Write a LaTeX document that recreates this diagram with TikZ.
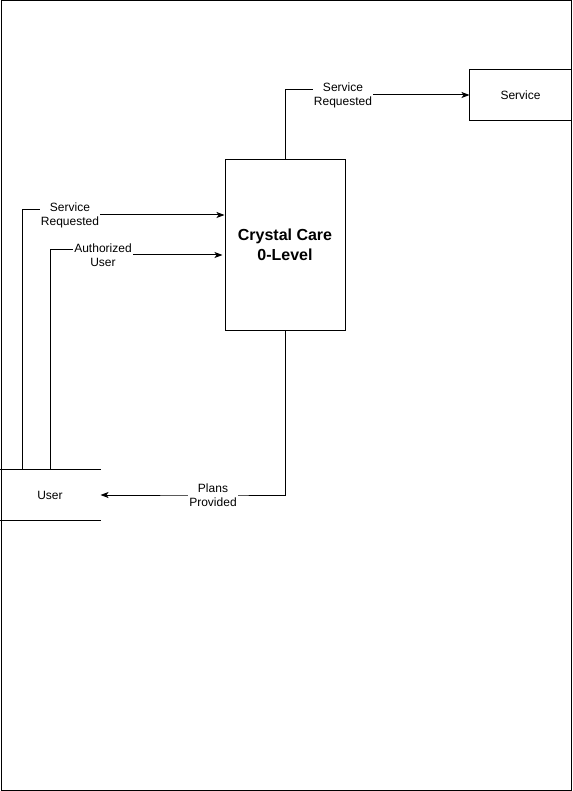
\documentclass[tikz,border=0pt]{standalone}
\usepackage{fontspec}
\setmainfont{Liberation Sans}
\usetikzlibrary{arrows.meta}
\begin{document}
\begin{tikzpicture}[x=1pt,y=-1pt,line width=1pt,font=\fontsize{12}{14}\selectfont,
  flow/.style={draw,-{Stealth[length=8pt,width=6pt,inset=2pt]}},
  lbl/.style={fill=white,inner sep=1pt,align=center}]
\useasboundingbox (0,0) rectangle (572,791);
\draw (1,1) rectangle (571,790);

% process
\node[draw,minimum width=120pt,minimum height=170pt,align=center,
  font=\fontsize{16}{20}\selectfont\bfseries] (crystal) at (285,245) {Crystal Care\\0-Level};

% external entities
\node[minimum width=101pt,minimum height=50pt] (service) at (520.5,95) {Service};
\draw (service.north east) -- (service.north west) -- (service.south west) -- (service.south east);
\node[minimum width=100pt,minimum height=50pt] (user) at (50,495) {User};
\draw (user.north west) -- (user.north east);
\draw (user.south west) -- (user.south east);

% flows
\draw[flow] (crystal.north) |- (343,90) -- (343,95) node[lbl] {Service\\Requested} -- (service.west);
\draw[flow] ([xshift=23pt]user.north west) |- (70,210) -- (70,215) node[lbl] {Service\\Requested} -- ([yshift=30pt]crystal.west);
\draw[flow] ([xshift=51pt]user.north west) |- (103,250) -- (103,255) node[lbl] {Authorized\\User} -- ([xshift=-2pt,yshift=-10pt]crystal.west);
\draw[flow] (crystal.south) |- (213,495) node[lbl] {Plans\\Provided} -- (user.east);
\end{tikzpicture}
\end{document}
